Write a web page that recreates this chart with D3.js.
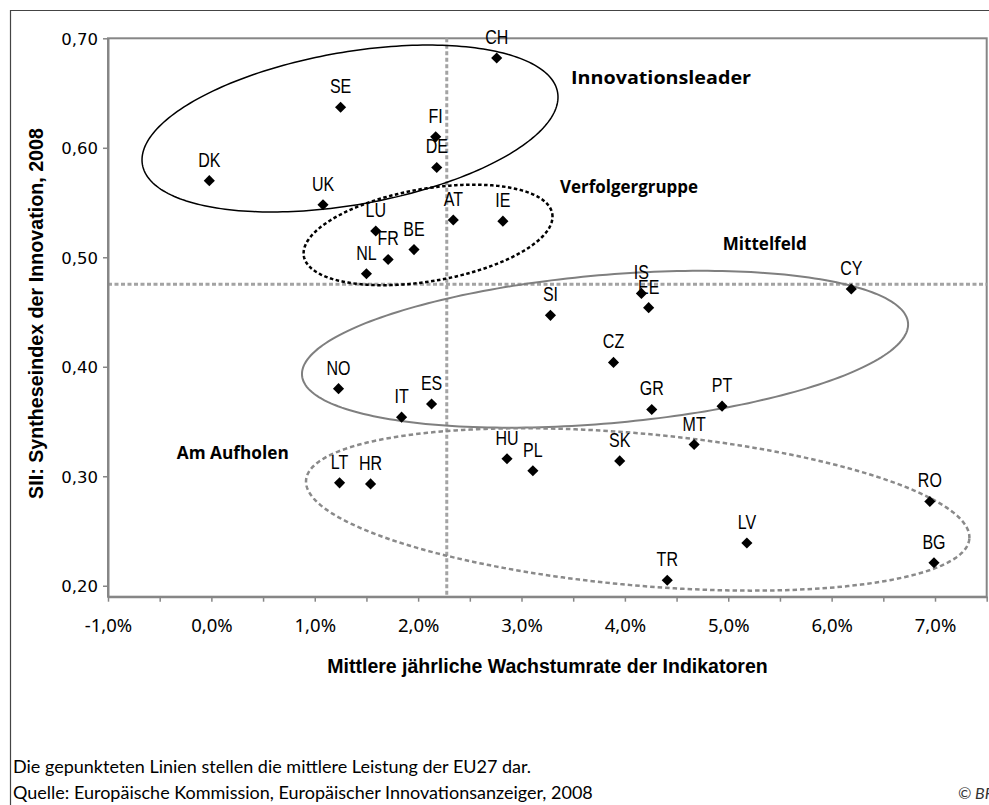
<!DOCTYPE html>
<html><head><meta charset="utf-8">
<script src="https://cdn.jsdelivr.net/npm/d3@7"></script>
<style>
body{margin:0;background:#fff;}
svg{display:block;}
</style></head><body>
<svg id="chart" width="989" height="805"></svg>
<script>
// ---- data ----
const countries   = ["CH","SE","FI","DE","DK","UK","LU","AT","IE","BE","FR","NL","IS","EE","CY","SI","CZ","GR","PT","MT","HU","PL","SK","RO","LV","BG","TR","NO","IT","ES","LT","HR"];
const growthRates = [2.76,1.25,2.17,2.18,-0.02,1.08,1.59,2.34,2.82,1.96,1.71,1.50,4.16,4.23,6.19,3.28,3.89,4.26,4.94,4.67,2.86,3.11,3.95,6.95,5.18,6.99,4.41,1.23,1.84,2.13,1.24,1.54];
const siiValues   = [0.682,0.637,0.610,0.582,0.570,0.548,0.524,0.534,0.533,0.507,0.498,0.485,0.467,0.454,0.471,0.447,0.404,0.361,0.364,0.329,0.316,0.305,0.314,0.277,0.239,0.221,0.205,0.380,0.354,0.366,0.294,0.293];

const euMeanGrowth = 2.277;
const euMeanSII = 0.4753;

const xDomain = [-1, 7.5];
const yDomain = [0.19, 0.70];
const xTickValues = d3.range(-1, 7.51, 0.5);
const xTickLabels = ["-1,0%","0,0%","1,0%","2,0%","3,0%","4,0%","5,0%","6,0%","7,0%"];
const yTickValues = [0.20,0.30,0.40,0.50,0.60,0.70];
const yTickLabels = ["0,20","0,30","0,40","0,50","0,60","0,70"];

// groups (ellipses in data units: centre + two conjugate semi-axis vectors)
const groupNames   = ["Innovationsleader","Verfolgergruppe","Mittelfeld","Am Aufholen"];
const groupCenterX = [1.341, 2.096, 3.808, 4.124];
const groupCenterY = [0.6176, 0.5204, 0.4160, 0.2697];
const groupAxisU   = [[2.008, 0.03306],[1.2015, 0.01936],[2.931, 0.02402],[3.208, -0.02685]];
const groupAxisV   = [[0.1267,-0.06868],[0.0755,-0.04164],[0.0619,-0.06749],[-0.0648,-0.06913]];
const groupLabelX  = [3.479, 3.373, 4.947, -0.335];
const groupLabelY  = [0.6583, 0.5590, 0.5067, 0.3158];

const xTitle = "Mittlere jährliche Wachstumrate der Indikatoren";
const yTitle = "SII: Syntheseindex der Innovation, 2008";
const note = "Die gepunkteten Linien stellen die mittlere Leistung der EU27 dar.";
const source = "Quelle: Europäische Kommission, Europäischer Innovationsanzeiger, 2008";
const credit = "© BFS";

// ---- layout ----
const svg = d3.select("#chart");
const plotL = 108, plotR = 986.7, plotT = 38.3, plotB = 596.7;
const x = d3.scaleLinear().domain(xDomain).range([plotL, plotR]);
const y = d3.scaleLinear().domain(yDomain).range([plotB, plotT]);

// outer frame
svg.append("path").attr("d", `M10.5,805 L10.5,10.5 L989,10.5`)
  .attr("fill","none").attr("stroke","#444").attr("stroke-width",1.2);

// plot border
svg.append("rect").attr("x",plotL).attr("y",plotT).attr("width",plotR-plotL).attr("height",plotB-plotT)
  .attr("fill","#fff").attr("stroke","#868686").attr("stroke-width",2);

// mean lines
svg.append("line").attr("x1",x(euMeanGrowth)).attr("x2",x(euMeanGrowth)).attr("y1",plotT).attr("y2",plotB)
  .attr("stroke","#a3a3a3").attr("stroke-width",3).attr("stroke-dasharray","4,2.5");
svg.append("line").attr("x1",plotL).attr("x2",plotR).attr("y1",y(euMeanSII)).attr("y2",y(euMeanSII))
  .attr("stroke","#a3a3a3").attr("stroke-width",3).attr("stroke-dasharray","4,2.5");

// ellipses
const ellStyles = [
  {stroke:"#000", w:1.5, dash:null},
  {stroke:"#000", w:2.5, dash:"3.5,2.5"},
  {stroke:"#7f7f7f", w:2, dash:null},
  {stroke:"#8a8a8a", w:2.5, dash:"4.5,3"}
];
const line = d3.line().curve(d3.curveLinearClosed);
groupNames.forEach((g,i)=>{
  const pts = d3.range(0, 2*Math.PI, Math.PI/120).map(t=>[
    x(groupCenterX[i] + groupAxisU[i][0]*Math.cos(t) + groupAxisV[i][0]*Math.sin(t)),
    y(groupCenterY[i] + groupAxisU[i][1]*Math.cos(t) + groupAxisV[i][1]*Math.sin(t))
  ]);
  const s = ellStyles[i];
  svg.append("path").attr("d", line(pts)).attr("fill","none")
    .attr("stroke", s.stroke).attr("stroke-width", s.w)
    .attr("stroke-dasharray", s.dash);
});

// axes
const xAxis = d3.axisBottom(x).tickValues(xTickValues).tickSize(5).tickSizeOuter(0)
  .tickFormat(d => { const k = Math.round(d - xDomain[0]); return (Number.isInteger(d) && k < xTickLabels.length) ? xTickLabels[k] : ""; });
const gx = svg.append("g").attr("transform",`translate(0,${plotB})`).call(xAxis);
gx.select(".domain").attr("stroke","#868686").attr("stroke-width",2);
gx.selectAll(".tick line").attr("stroke","#868686").attr("stroke-width",1.5);
gx.selectAll(".tick text").attr("font-family","'Noto Sans',sans-serif").attr("font-size",18.5)
  .attr("fill","#000").attr("dy",null).attr("y",35);

const yAxis = d3.axisLeft(y).tickValues(yTickValues).tickSize(5).tickSizeOuter(0)
  .tickFormat((d,i)=>yTickLabels[i]);
const gy = svg.append("g").attr("transform",`translate(${plotL},0)`).call(yAxis);
gy.select(".domain").attr("stroke","#868686").attr("stroke-width",2);
gy.selectAll(".tick line").attr("stroke","#868686").attr("stroke-width",1.5);
gy.selectAll(".tick text").attr("font-family","'DejaVu Sans',sans-serif").attr("font-size",16.5)
  .attr("fill","#000").attr("x",-10).attr("dy","0.36em");

// points
const diamond = d3.symbol().type(d3.symbolSquare).size(62);
countries.forEach((c,i)=>{
  svg.append("path").attr("d", diamond())
    .attr("transform",`translate(${x(growthRates[i])},${y(siiValues[i])}) rotate(45)`)
    .attr("fill","#000");
});
countries.forEach((c,i)=>{
  svg.append("text")
    .attr("transform",`translate(${x(growthRates[i])},${y(siiValues[i]) - 14}) scale(0.8,1)`)
    .attr("text-anchor","middle").attr("font-family","'Liberation Sans',Arial,sans-serif").attr("font-size",20)
    .attr("fill","#000").text(c);
});

// group labels
const groupLabelWidths = [180, 138, 84, 112];
groupNames.forEach((g,i)=>{
  svg.append("text").attr("x", x(groupLabelX[i])).attr("y", y(groupLabelY[i]))
    .attr("font-family","'Open Sans',sans-serif").attr("font-weight",700).attr("font-size",18.5)
    .attr("textLength", groupLabelWidths[i]).attr("lengthAdjust","spacingAndGlyphs")
    .attr("fill","#000").text(g);
});

// axis titles
svg.append("text").attr("x",547.5).attr("y",673)
  .attr("text-anchor","middle").attr("font-family","'Liberation Sans',Arial,sans-serif")
  .attr("font-weight",700).attr("font-size",19.5).text(xTitle);
svg.append("text").attr("transform",`translate(43,${(plotT+plotB)/2-4}) rotate(-90)`)
  .attr("text-anchor","middle").attr("font-family","'Liberation Sans',Arial,sans-serif")
  .attr("font-weight",700).attr("font-size",19.7).text(yTitle);

// footer
svg.append("text").attr("x",13).attr("y",773).attr("font-family","Lato,sans-serif").attr("font-size",18).text(note);
svg.append("text").attr("x",13).attr("y",799).attr("font-family","Lato,sans-serif").attr("font-size",18).text(source);
svg.append("text").attr("x",958).attr("y",799).attr("font-family","Lato,sans-serif").attr("font-style","italic")
  .attr("font-size",16).attr("fill","#333").text(credit);
</script>
</body></html>
